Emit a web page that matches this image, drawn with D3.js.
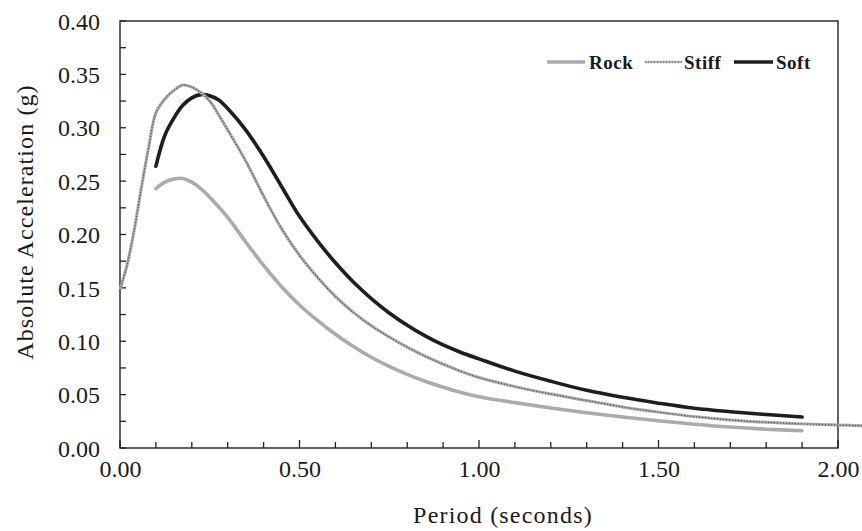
<!DOCTYPE html>
<html>
<head>
<meta charset="utf-8">
<script src="https://cdn.jsdelivr.net/npm/d3@7"></script>
<style>
  html, body { margin: 0; padding: 0; background: #fff; }
  svg { display: block; }
  text { font-family: "Liberation Serif", "Times New Roman", serif; fill: #1a1a1a; }
</style>
</head>
<body>
<svg id="chart" width="862" height="531"></svg>
<script>
// ---- Data ----
const seriesNames = ["Rock", "Stiff", "Soft"];

const rockPeriod = [0.10, 0.125, 0.15, 0.175, 0.20, 0.225, 0.25, 0.30, 0.35, 0.40, 0.45, 0.50, 0.55, 0.60, 0.65, 0.70, 0.75, 0.80, 0.85, 0.90, 0.95, 1.00, 1.10, 1.20, 1.30, 1.40, 1.50, 1.60, 1.70, 1.80, 1.90];
const rockAccel  = [0.243, 0.249, 0.252, 0.2525, 0.249, 0.243, 0.235, 0.216, 0.193, 0.171, 0.151, 0.134, 0.1195, 0.1065, 0.095, 0.085, 0.0765, 0.069, 0.0625, 0.057, 0.052, 0.048, 0.0425, 0.0375, 0.033, 0.029, 0.0255, 0.0223, 0.0196, 0.0176, 0.0162];

const stiffPeriod = [0.00, 0.02, 0.04, 0.06, 0.08, 0.10, 0.125, 0.15, 0.175, 0.20, 0.225, 0.25, 0.275, 0.30, 0.35, 0.40, 0.45, 0.50, 0.55, 0.60, 0.65, 0.70, 0.75, 0.80, 0.85, 0.90, 0.95, 1.00, 1.10, 1.20, 1.30, 1.40, 1.50, 1.60, 1.70, 1.80, 1.90, 2.00, 2.07];
const stiffAccel  = [0.148, 0.172, 0.205, 0.245, 0.282, 0.314, 0.327, 0.335, 0.340, 0.338, 0.333, 0.325, 0.312, 0.298, 0.269, 0.236, 0.2055, 0.1805, 0.160, 0.142, 0.127, 0.1145, 0.104, 0.0945, 0.086, 0.0785, 0.0718, 0.066, 0.0575, 0.0505, 0.0445, 0.0385, 0.0336, 0.0294, 0.0263, 0.0241, 0.0226, 0.0215, 0.0208];

const softPeriod = [0.10, 0.125, 0.15, 0.175, 0.20, 0.225, 0.25, 0.275, 0.30, 0.35, 0.40, 0.45, 0.50, 0.55, 0.60, 0.65, 0.70, 0.75, 0.80, 0.85, 0.90, 0.95, 1.00, 1.10, 1.20, 1.30, 1.40, 1.50, 1.60, 1.70, 1.80, 1.90];
const softAccel  = [0.264, 0.293, 0.309, 0.321, 0.328, 0.331, 0.330, 0.326, 0.318, 0.298, 0.273, 0.245, 0.217, 0.194, 0.1735, 0.1555, 0.140, 0.1265, 0.115, 0.105, 0.0965, 0.0895, 0.0835, 0.072, 0.0625, 0.054, 0.0475, 0.042, 0.0372, 0.034, 0.0314, 0.029];

const xTickValues = [0.00, 0.50, 1.00, 1.50, 2.00];
const yTickValues = [0.00, 0.05, 0.10, 0.15, 0.20, 0.25, 0.30, 0.35, 0.40];
const xLabel = "Period (seconds)";
const yLabel = "Absolute Acceleration (g)";

// ---- Layout ----
const svg = d3.select("#chart");
const plot = { left: 120, right: 838, top: 21, bottom: 448 };

const x = d3.scaleLinear().domain([0, 2]).range([plot.left, plot.right]);
const y = d3.scaleLinear().domain([0, 0.4]).range([plot.bottom, plot.top]);

const zip = (xs, ys) => xs.map((p, i) => ({ t: p, v: ys[i] }));
const line = d3.line().x(d => x(d.t)).y(d => y(d.v)).curve(d3.curveCatmullRom.alpha(0.5));

// Frame
svg.append("rect")
  .attr("x", plot.left).attr("y", plot.top)
  .attr("width", plot.right - plot.left).attr("height", plot.bottom - plot.top)
  .attr("fill", "none").attr("stroke", "#222").attr("stroke-width", 1.4);

// Y axis: inward ticks every 0.025, labels at 0.05
const yAxis = d3.axisLeft(y).tickValues(yTickValues).tickFormat(d3.format(".2f")).tickSize(0).tickPadding(20);
const gy = svg.append("g").attr("transform", `translate(${plot.left},0)`).call(yAxis);
gy.select(".domain").remove();
gy.selectAll("text").attr("font-size", 24).attr("dy", "0.34em").style("font-family", "Liberation Serif");
const yMinor = d3.range(0, 0.4001, 0.025);
svg.append("g").selectAll("line").data(yMinor).join("line")
  .attr("x1", plot.left).attr("x2", plot.left + 6)
  .attr("y1", d => y(d)).attr("y2", d => y(d))
  .attr("stroke", "#222").attr("stroke-width", 1.3);

// X axis: inward ticks every 0.1, labels at 0.5
const xAxis = d3.axisBottom(x).tickValues(xTickValues).tickFormat(d3.format(".2f")).tickSize(0).tickPadding(29);
const gx = svg.append("g").attr("transform", `translate(0,${plot.bottom})`).call(xAxis);
gx.select(".domain").remove();
gx.selectAll("text").attr("font-size", 24).attr("dy", "0").style("font-family", "Liberation Serif");
const xMinor = d3.range(0, 2.0001, 0.1);
svg.append("g").selectAll("line").data(xMinor).join("line")
  .attr("x1", d => x(d)).attr("x2", d => x(d))
  .attr("y1", plot.bottom).attr("y2", d => plot.bottom - (Math.abs(d * 2 - Math.round(d * 2)) < 1e-6 ? 8 : 6))
  .attr("stroke", "#222").attr("stroke-width", 1.3);

// Axis titles
svg.append("text")
  .attr("x", 503).attr("y", 523)
  .attr("text-anchor", "middle").attr("font-size", 24).attr("letter-spacing", 1.2)
  .text(xLabel);
svg.append("text")
  .attr("transform", `translate(33,${222}) rotate(-90)`)
  .attr("text-anchor", "middle").attr("font-size", 24).attr("letter-spacing", 1.1)
  .text(yLabel);

// Series
const rock = zip(rockPeriod, rockAccel);
const stiff = zip(stiffPeriod, stiffAccel);
const soft = zip(softPeriod, softAccel);

svg.append("path").datum(rock).attr("d", line)
  .attr("fill", "none").attr("stroke", "#ababab").attr("stroke-width", 3.6).attr("stroke-linecap", "round");
svg.append("path").datum(soft).attr("d", line)
  .attr("fill", "none").attr("stroke", "#1e1e1e").attr("stroke-width", 3.6).attr("stroke-linecap", "round");
svg.append("path").datum(stiff).attr("d", line)
  .attr("fill", "none").attr("stroke", "#a9a9a9").attr("stroke-width", 3);
svg.append("path").datum(stiff).attr("d", line)
  .attr("fill", "none").attr("stroke", "#4a4a4a").attr("stroke-width", 1.2).attr("stroke-dasharray", "1,2");

// Legend
const legend = [
  { name: seriesNames[0], x1: 547, x2: 585, tx: 589 },
  { name: seriesNames[1], x1: 645, x2: 682, tx: 684 },
  { name: seriesNames[2], x1: 734, x2: 773, tx: 776 }
];
const lg = svg.append("g");
legend.forEach(l => {
  if (l.name === "Rock") {
    lg.append("line").attr("x1", l.x1).attr("x2", l.x2).attr("y1", 62).attr("y2", 62)
      .attr("stroke", "#ababab").attr("stroke-width", 3.6);
  } else if (l.name === "Soft") {
    lg.append("line").attr("x1", l.x1).attr("x2", l.x2).attr("y1", 62).attr("y2", 62)
      .attr("stroke", "#1e1e1e").attr("stroke-width", 3.6);
  } else {
    lg.append("line").attr("x1", l.x1).attr("x2", l.x2).attr("y1", 62).attr("y2", 62)
      .attr("stroke", "#b4b4b4").attr("stroke-width", 2.4);
    lg.append("line").attr("x1", l.x1).attr("x2", l.x2).attr("y1", 62).attr("y2", 62)
      .attr("stroke", "#4a4a4a").attr("stroke-width", 1).attr("stroke-dasharray", "1,2");
  }
  lg.append("text").attr("x", l.tx).attr("y", 69)
    .attr("font-size", 19).attr("font-weight", "bold").attr("letter-spacing", 0.5)
    .text(l.name);
});
</script>
</body>
</html>
